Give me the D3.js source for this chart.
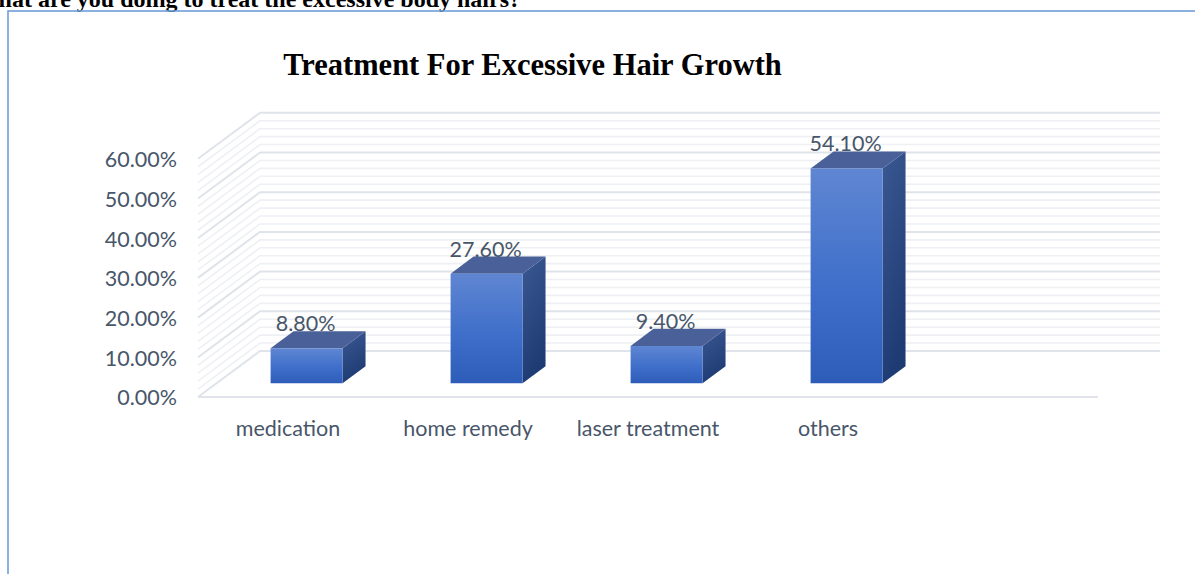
<!DOCTYPE html>
<html>
<head>
<meta charset="utf-8">
<script src="https://cdn.jsdelivr.net/npm/d3@7"></script>
<style>
  html, body { margin: 0; padding: 0; background: #ffffff; }
  svg { display: block; }
</style>
</head>
<body>
<script>
// Survey answers: how respondents treat excessive body hair
const categories = ["medication", "home remedy", "laser treatment", "others"];
const shares = [0.088, 0.276, 0.094, 0.541];
// Category slots on the floor: the chart keeps one trailing empty slot
const slots = categories.concat([""]);
const yTicks = [0, 0.1, 0.2, 0.3, 0.4, 0.5, 0.6];

const W = 1195, H = 574;
const svg = d3.select("body").append("svg")
  .attr("width", W).attr("height", H)
  .attr("viewBox", `0 0 ${W} ${H}`);

// Page heading above the chart frame (partly cut off at the top)
svg.append("text")
  .attr("x", 521).attr("y", 7)
  .attr("text-anchor", "end")
  .attr("font-family", "'Liberation Serif', 'Times New Roman', serif")
  .attr("font-weight", "bold")
  .attr("font-size", 24)
  .attr("fill", "#000")
  .text("What are you doing to treat the excessive body hairs?");

// Chart frame (its right edge runs past the page)
svg.append("rect")
  .attr("x", 8).attr("y", 11)
  .attr("width", 1210).attr("height", 620)
  .attr("fill", "none")
  .attr("stroke", "#6E9FD8")
  .attr("stroke-width", 1.6);

// Chart title
svg.append("text")
  .attr("x", 532.5).attr("y", 74.5)
  .attr("text-anchor", "middle")
  .attr("font-family", "'Liberation Serif', 'Times New Roman', serif")
  .attr("font-weight", "bold")
  .attr("font-size", 30.5)
  .attr("fill", "#000")
  .text("Treatment For Excessive Hair Growth");

// ---- 3D-ish projection -------------------------------------------------
const floorWidth = 900;
const origin = { x: 198, y: 397 };   // front-left corner of the floor
const depth = { dx: 62, dy: -46 };    // offset from front edge to back wall

const x = d3.scaleBand().domain(slots).range([0, floorWidth]).padding(0);
const y = d3.scaleLinear().domain([0, 0.6]).range([0, 238.2]);

// xf: position along the floor, v: value, z: depth fraction (0 front, 1 back)
function P(xf, v, z) {
  return [origin.x + xf + z * depth.dx, origin.y - y(v) + z * depth.dy];
}
const pts = arr => arr.map(p => p.join(",")).join(" ");

const defs = svg.append("defs");
const gFront = defs.append("linearGradient").attr("id", "gFront")
  .attr("x1", 0).attr("y1", 0).attr("x2", 0).attr("y2", 1);
gFront.append("stop").attr("offset", "0%").attr("stop-color", "#5F86D2");
gFront.append("stop").attr("offset", "55%").attr("stop-color", "#3F6FCA");
gFront.append("stop").attr("offset", "100%").attr("stop-color", "#2E5DB9");
const gSide = defs.append("linearGradient").attr("id", "gSide")
  .attr("x1", 0).attr("y1", 0).attr("x2", 0.3).attr("y2", 1);
gSide.append("stop").attr("offset", "0%").attr("stop-color", "#3A5892");
gSide.append("stop").attr("offset", "100%").attr("stop-color", "#1F3B74");

// ---- Walls and floor ---------------------------------------------------
const grid = svg.append("g").attr("fill", "none");
const minorTicks = y.ticks(30).filter(t => !yTicks.some(m => Math.abs(m - t) < 1e-9));

function wallLine(t, color, width) {
  grid.append("polyline")
    .attr("points", pts([P(0, t, 0), P(0, t, 1), P(floorWidth, t, 1)]))
    .attr("stroke", color)
    .attr("stroke-width", width)
    .attr("stroke-linejoin", "round");
}
minorTicks.forEach(t => wallLine(t, "#EEF0F4", 1.6));
yTicks.forEach(t => wallLine(t, "#DFE3EA", 2));

// Front edge of the floor
grid.append("line")
  .attr("x1", P(0, 0, 0)[0]).attr("y1", P(0, 0, 0)[1])
  .attr("x2", P(floorWidth, 0, 0)[0]).attr("y2", P(floorWidth, 0, 0)[1])
  .attr("stroke", "#E0E3E9").attr("stroke-width", 2);

// ---- Bars --------------------------------------------------------------
const zFront = 0.3, zBack = 0.67;
const barW = x.bandwidth() * 0.4;
const data = categories.map((c, i) => ({ cat: c, v: shares[i] }));

const bars = svg.append("g").selectAll("g").data(data).join("g");
bars.each(function (d) {
  const g = d3.select(this);
  const x0 = x(d.cat) + (x.bandwidth() - barW) / 2;
  const x1 = x0 + barW;
  g.append("polygon")
    .attr("points", pts([P(x1, 0, zFront), P(x1, 0, zBack), P(x1, d.v, zBack), P(x1, d.v, zFront)]))
    .attr("fill", "url(#gSide)");
  g.append("polygon")
    .attr("points", pts([P(x0, d.v, zFront), P(x1, d.v, zFront), P(x1, d.v, zBack), P(x0, d.v, zBack)]))
    .attr("fill", "#4A6099");
  g.append("polygon")
    .attr("points", pts([P(x0, 0, zFront), P(x1, 0, zFront), P(x1, d.v, zFront), P(x0, d.v, zFront)]))
    .attr("fill", "url(#gFront)");
});

const textColor = "#48566A";
const labelFont = "Lato, 'Open Sans', sans-serif";
const fmt = d3.format(".2%");

// Value labels sitting on the back edge of each bar top
svg.append("g").selectAll("text").data(data).join("text")
  .attr("x", d => P(x(d.cat) + x.bandwidth() / 2, d.v, zFront)[0] - 1)
  .attr("y", d => P(0, d.v, zBack)[1])
  .attr("text-anchor", "middle")
  .attr("font-family", labelFont)
  .attr("font-size", 21.5)
  .attr("fill", textColor)
  .text(d => fmt(d.v));

// ---- Axes --------------------------------------------------------------
const yAxisScale = d3.scaleLinear().domain(y.domain())
  .range([origin.y - y.range()[0], origin.y - y.range()[1]]);
const yAxis = svg.append("g")
  .attr("transform", `translate(${origin.x},1)`)
  .call(d3.axisLeft(yAxisScale).tickValues(yTicks).tickFormat(fmt).tickSize(0).tickPadding(21));
yAxis.select(".domain").remove();
yAxis.selectAll("text")
  .attr("font-family", labelFont)
  .attr("font-size", 21.5)
  .attr("fill", textColor);

const xAxisScale = d3.scaleBand().domain(slots)
  .range([origin.x, origin.x + floorWidth]).padding(0);
const xAxis = svg.append("g")
  .attr("transform", `translate(0,${origin.y})`)
  .call(d3.axisBottom(xAxisScale).tickSize(0).tickPadding(24));
xAxis.select(".domain").remove();
xAxis.selectAll("text")
  .attr("font-family", labelFont)
  .attr("font-size", 21.5)
  .attr("fill", textColor);
</script>
</body>
</html>
